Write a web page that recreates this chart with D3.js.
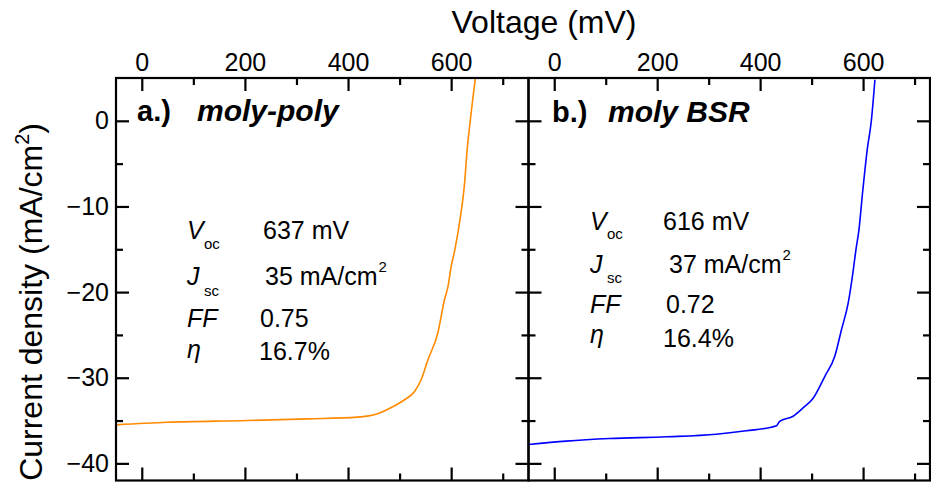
<!DOCTYPE html>
<html>
<head>
<meta charset="utf-8">
<script src="https://cdnjs.cloudflare.com/ajax/libs/d3/7.8.5/d3.min.js"></script>
<style>
  body { margin: 0; background: #fff; }
  text { font-family: "Liberation Sans", Arial, sans-serif; fill: #000; }
</style>
</head>
<body>
<svg id="jv-chart"></svg>
<script>
// ======================
// DATA
// ======================

// panel a: moly-poly (orange)
const voltageA = [-50, 49, 204, 321, 418, 457, 483, 509, 529, 542, 555, 574, 587, 594, 600, 607, 618, 626, 631, 637, 647];
const currentA = [-35.5, -35.2, -35.0, -34.8, -34.6, -34.2, -33.5, -32.6, -31.6, -30.2, -27.9, -24.8, -20.9, -19.3, -17.0, -15.1, -11.2, -7.3, -3.4, 0, 5];

// panel b: moly BSR (blue)
const voltageB = [-50, 23, 108, 218, 315, 373, 432, 438, 464, 484, 503, 526, 545, 558, 571, 581, 586, 592, 599, 608, 616, 623];
const currentB = [-37.8, -37.4, -37.1, -36.9, -36.6, -36.2, -35.6, -35.1, -34.5, -33.5, -32.4, -29.8, -27.5, -24.4, -21.3, -17.4, -15.1, -12.7, -8.4, -3.4, 0, 4.8];

const xMajorTicks = [0, 200, 400, 600];
const xMinorTicks = [100, 300, 500, 700];
const yMajorTicks = [0, -10, -20, -30, -40];
const yMinorTicks = [-5, -15, -25, -35];

const statLabels = ["V", "J", "FF", "\u03b7"];
const statSubs = ["oc", "sc", "", ""];
const statsA = ["637 mV", "35 mA/cm", "0.75", "16.7%"];
const statsB = ["616 mV", "37 mA/cm", "0.72", "16.4%"];

// ======================
// SVG SETUP
// ======================

const width = 931;
const height = 485;
const svg = d3.select("#jv-chart")
    .attr("width", width)
    .attr("height", height);

const plotTop = 78;
const plotBottom = 480.5;
const yScale = d3.scaleLinear().domain([-42, 5]).range([plotBottom, plotTop]);

const majorLen = 13;
const minorLen = 7;

const panels = [
    {
        id: "a", left: 116, right: 528.5, domain: [-50, 750],
        volts: voltageA, amps: currentA, color: "#ff8a00",
        tag: "a.)", tagX: 137, name: "moly-poly", nameX: 197, nameY: 121,
        stats: statsA, labelX: 187, subX: 204, valueX: [263, 265, 260, 259],
        rowY: [239, 285, 327, 358], subY: [249, 296], valueY: [239, 285, 327, 360]
    },
    {
        id: "b", left: 528.5, right: 930, domain: [-50, 730],
        volts: voltageB, amps: currentB, color: "#0000ff",
        tag: "b.)", tagX: 552, name: "moly BSR", nameX: 608, nameY: 122,
        stats: statsB, labelX: 590, subX: 607, valueX: [663, 669, 666, 663],
        rowY: [230, 273, 313, 343], subY: [239, 283], valueY: [230, 273, 313, 347]
    }
];

// ======================
// DRAW PANELS
// ======================

panels.forEach((p, i) => {
    const xScale = d3.scaleLinear().domain(p.domain).range([p.left, p.right]);
    const g = svg.append("g").attr("class", "panel-" + p.id);

    // clip so the curve stops at the frame
    svg.append("clipPath").attr("id", "clip-" + p.id)
        .append("rect")
        .attr("x", p.left).attr("y", plotTop)
        .attr("width", p.right - p.left).attr("height", plotBottom - plotTop);

    const line = d3.line()
        .curve(d3.curveMonotoneX)
        .x(d => xScale(d[0]))
        .y(d => yScale(d[1]));

    g.append("path")
        .datum(p.volts.map((v, k) => [v, p.amps[k]]))
        .attr("clip-path", `url(#clip-${p.id})`)
        .attr("fill", "none")
        .attr("stroke", p.color)
        .attr("stroke-width", 1.6)
        .attr("d", line);

    // axes: ticks point inward on all four sides
    const axes = [
        { gen: d3.axisTop, scale: xScale, at: `translate(0,${plotTop})`, major: xMajorTicks, minor: xMinorTicks, labels: true },
        { gen: d3.axisBottom, scale: xScale, at: `translate(0,${plotBottom})`, major: xMajorTicks, minor: xMinorTicks, labels: false },
        { gen: d3.axisLeft, scale: yScale, at: `translate(${p.left},0)`, major: yMajorTicks, minor: yMinorTicks, labels: i === 0 },
        { gen: d3.axisRight, scale: yScale, at: `translate(${p.right},0)`, major: yMajorTicks, minor: yMinorTicks, labels: false }
    ];

    axes.forEach(a => {
        const majorG = g.append("g").attr("transform", a.at)
            .call(a.gen(a.scale).tickValues(a.major).tickSize(-majorLen).tickSizeOuter(0)
                .tickPadding(7).tickFormat(a.labels ? d3.format("d") : ""));
        const minorG = g.append("g").attr("transform", a.at)
            .call(a.gen(a.scale).tickValues(a.minor).tickSize(-minorLen).tickSizeOuter(0).tickFormat(""));
        [majorG, minorG].forEach(ag => {
            ag.select(".domain").remove();
            ag.selectAll(".tick line").attr("stroke", "#000").attr("stroke-width", 2.2);
        });
        majorG.selectAll(".tick text").attr("font-size", 25).attr("fill", "#000");
    });

    // frame
    g.append("rect")
        .attr("x", p.left).attr("y", plotTop)
        .attr("width", p.right - p.left).attr("height", plotBottom - plotTop)
        .attr("fill", "none")
        .attr("stroke", "#000")
        .attr("stroke-width", 2.2);

    // panel title
    g.append("text")
        .attr("x", p.tagX).attr("y", p.nameY)
        .attr("font-size", 29).attr("font-weight", "bold")
        .text(p.tag);
    g.append("text")
        .attr("x", p.nameX).attr("y", p.nameY)
        .attr("font-size", 30).attr("font-weight", "bold").attr("font-style", "italic")
        .text(p.name);

    // cell parameters
    statLabels.forEach((lab, k) => {
        g.append("text")
            .attr("x", p.labelX).attr("y", p.rowY[k])
            .attr("font-size", 25).attr("font-style", "italic")
            .text(lab);
        if (statSubs[k]) {
            g.append("text")
                .attr("x", p.subX).attr("y", p.subY[k])
                .attr("font-size", 15)
                .text(statSubs[k]);
        }
        const val = g.append("text")
            .attr("x", p.valueX[k]).attr("y", p.valueY[k])
            .attr("font-size", 25);
        val.append("tspan").text(p.stats[k]);
        if (k === 1) {
            val.append("tspan").attr("font-size", 15).attr("dx", 1).attr("dy", -13).text("2");
        }
    });
});

// ======================
// AXIS TITLES
// ======================

svg.append("text")
    .attr("x", 544).attr("y", 33)
    .attr("text-anchor", "middle")
    .attr("font-size", 32)
    .text("Voltage (mV)");

const yTitle = svg.append("text")
    .attr("transform", "translate(42,123) rotate(-90)")
    .attr("text-anchor", "end")
    .attr("font-size", 32);
yTitle.append("tspan").text("Current density (mA/cm");
yTitle.append("tspan").attr("font-size", 20).attr("dy", -13).text("2");
yTitle.append("tspan").attr("dy", 13).text(")");
</script>
</body>
</html>
